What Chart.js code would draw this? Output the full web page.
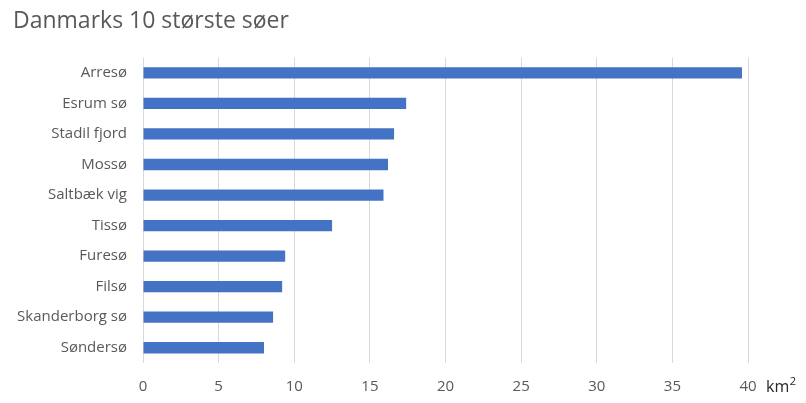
<!DOCTYPE html>
<html>
<head>
<meta charset="utf-8">
<script src="https://cdn.jsdelivr.net/npm/chart.js@4"></script>
<style>
html,body{margin:0;padding:0;background:#fff;}
#wrap{width:806px;height:403px;position:relative;}
</style>
</head>
<body>
<div id="wrap"><canvas id="c"></canvas></div>
<script>
const titleText = "Danmarks 10 største søer";
const categories = ["Arresø","Esrum sø","Stadil fjord","Mossø","Saltbæk vig","Tissø","Furesø","Filsø","Skanderborg sø","Søndersø"];
const areas = [39.6,17.4,16.6,16.2,15.9,12.5,9.4,9.2,8.6,8.0];
const unitBase = "km";
const unitSup = "2";
const FONT = "'Open Sans', 'DejaVu Sans', sans-serif";

const unitPlugin = {
  id: 'unitLabel',
  afterDraw(chart) {
    const ctx = chart.ctx;
    const x = chart.chartArea.right + 18;
    const y = 392;
    ctx.save();
    ctx.fillStyle = '#262626';
    ctx.textBaseline = 'alphabetic';
    ctx.textAlign = 'left';
    ctx.font = "16px " + FONT;
    ctx.fillText(unitBase, x, y);
    const w = ctx.measureText(unitBase).width;
    ctx.font = "11px " + FONT;
    ctx.fillText(unitSup, x + w + 0.5, y - 7);
    ctx.restore();
  }
};

new Chart(document.getElementById('c'), {
  type: 'bar',
  data: {
    labels: categories,
    datasets: [{
      data: areas,
      backgroundColor: '#4472c4',
      borderWidth: 0,
      categoryPercentage: 1,
      barPercentage: 0.37
    }]
  },
  options: {
    indexAxis: 'y',
    responsive: true,
    maintainAspectRatio: false,
    animation: false,
    layout: { padding: { left: 13, right: 58, top: 0, bottom: 0 } },
    plugins: {
      legend: { display: false },
      tooltip: { enabled: false },
      title: {
        display: true,
        text: titleText,
        align: 'start',
        color: '#595959',
        font: { family: FONT, size: 23, weight: 'normal' },
        padding: { top: 8, bottom: 22 }
      }
    },
    scales: {
      x: {
        min: 0, max: 40,
        ticks: { stepSize: 5, color: '#595959', font: { family: FONT, size: 15 }, padding: 15 },
        grid: { color: '#d9d9d9', lineWidth: 1, drawTicks: false },
        border: { display: false },
        afterFit(scale) { scale.height = 40; }
      },
      y: {
        ticks: { color: '#595959', font: { family: FONT, size: 15 }, padding: 16 },
        grid: { display: false, drawTicks: false },
        border: { display: false },
        afterFit(scale) { scale.width = 130; }
      }
    }
  },
  plugins: [unitPlugin]
});
</script>
</body>
</html>
